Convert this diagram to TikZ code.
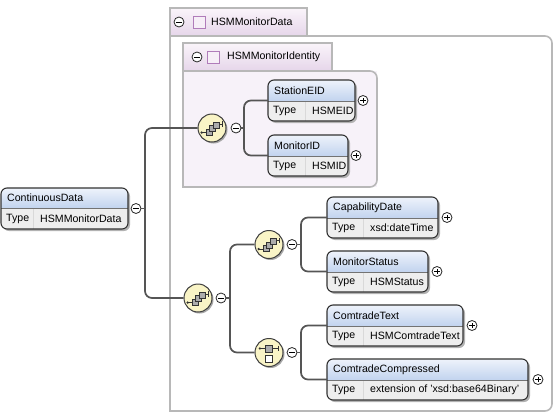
\documentclass[tikz,border=0pt]{standalone}
\usepackage{fontspec}
\setmainfont{Liberation Sans}
\usetikzlibrary{shadows}

\definecolor{elemtop}{HTML}{EEF3FB}
\definecolor{elemblue}{HTML}{B9CDEC}
\definecolor{typegray}{HTML}{EEEEEE}
\definecolor{linegray}{HTML}{555555}
\definecolor{grpborder}{HTML}{B8B8B8}
\definecolor{grpfill}{HTML}{F7F2F9}
\definecolor{grptop}{HTML}{FAF4FA}
\definecolor{grpbot}{HTML}{E6D6EA}
\definecolor{sqborder}{HTML}{B07CBA}
\definecolor{sqfill}{HTML}{F6EEF7}
\definecolor{compfill}{HTML}{F9F4C6}

\tikzset{
  conn/.style={draw=linegray, line width=1.7pt, rounded corners=7pt},
  elemborder/.style={draw=black!80, line width=1.1pt, rounded corners=6pt},
  grpline/.style={draw=grpborder, line width=1.6pt},
  txt/.style={inner sep=0pt, anchor=west, font=\fontsize{10.6}{12}\selectfont},
  comp/.style={circle, draw=black!75, line width=1pt, fill=compfill, minimum size=28pt, inner sep=0pt,
    drop shadow={shadow xshift=1.5pt, shadow yshift=-1.5pt, fill=black!35, opacity=1}},
  pm/.style={circle, draw=black!85, line width=0.8pt, fill=white, minimum size=10pt, inner sep=0pt},
  minus/.style={pm, path picture={\draw[black, line width=0.8pt]
    ([xshift=-2.6pt]path picture bounding box.center) -- ([xshift=2.6pt]path picture bounding box.center);}},
  plus/.style={pm, path picture={\draw[black, line width=0.8pt]
    ([xshift=-2.6pt]path picture bounding box.center) -- ([xshift=2.6pt]path picture bounding box.center)
    ([yshift=-2.6pt]path picture bounding box.center) -- ([yshift=2.6pt]path picture bounding box.center);}},
}

% element box: name, x1, y1, x2, y2, header line y, type column x, title, type
\newcommand{\xsdelem}[9]{%
  \fill[black!30, rounded corners=6pt] ({#2+2},{#3+2}) rectangle ({#4+2},{#5+2});
  \begin{scope}
    \clip (#2,#3) rectangle (#4,#6);
    \shade[top color=elemtop, bottom color=elemblue, rounded corners=6pt] (#2,#3) rectangle (#4,{#6+4});
  \end{scope}
  \begin{scope}
    \clip (#2,#6) rectangle (#4,#5);
    \fill[typegray, rounded corners=6pt] (#2,#3) rectangle (#4,#5);
  \end{scope}
  \draw[black!15, line width=1pt] (#7,#6) -- (#7,#5);
  \draw[black!55, line width=0.6pt] (#2,#6) -- (#4,#6);
  \draw[elemborder] (#2,#3) rectangle (#4,#5);
  \node[txt] (#1-title) at ({#2+6},{(#3+#6)/2}) {#8};
  \node[txt] (#1-key) at ({#2+5},{(#6+#5)/2}) {Type};
  \node[txt] (#1-type) at ({#7+7},{(#6+#5)/2}) {#9};
  \coordinate (#1) at (#2,{(#3+#5)/2});
}

% sequence and choice marks inside a compositor
\newcommand{\seqicon}[1]{%
  \begin{scope}[shift={(#1.center)}, scale=1.15]
    \draw[black!80, line width=0.7pt] (-9,4) -- (-4,4);
    \fill[black!80] (-9,4) circle (1.1);
    \draw[black!80, line width=0.7pt] (5,-3.5) -- (9,-3.5) (9,-6) -- (9,-1);
    \foreach \d in {0,3,6}
      \draw[fill=gray!65, draw=black!80, line width=0.6pt] ({-5+\d},{1-\d}) rectangle ({0+\d},{6-\d});
  \end{scope}}
\newcommand{\choiceicon}[1]{%
  \begin{scope}[shift={(#1.center)}, scale=1.15]
    \draw[black!80, line width=0.7pt] (-8,-3.5) -- (8,-3.5) (8,-6) -- (8,-1);
    \fill[black!80] (-8,-3.5) circle (1.1);
    \draw[fill=gray!65, draw=black!80, line width=0.6pt] (-3,-6.5) rectangle (3,-0.5);
    \draw[fill=white, draw=black!80, line width=0.6pt] (-3,2.5) rectangle (3,8.5);
  \end{scope}}

\begin{document}
\begin{tikzpicture}[x=1pt, y=-1pt]
\useasboundingbox (0,0) rectangle (554,415);

% group HSMMonitorData
\fill[white] (170,36) rectangle (552,411);
\begin{scope}
  \clip (169,30) rectangle (560,420);
  \draw[grpline, rounded corners=7pt] (150,36) rectangle (552,411);
\end{scope}
\draw[grpline, line cap=rect] (170,36) -- (170,411);
\shade[top color=grptop, bottom color=grpbot] (170,8) rectangle (307,36);
\draw[grpline] (170,8) rectangle (307,36);
\node[minus] (datagrp-minus) at (179,22) {};
\draw[sqborder, fill=sqfill, line width=0.9pt] (193,16) rectangle (205,28);
\node[txt] (datagrp-title) at (211,22) {HSMMonitorData};

% group HSMMonitorIdentity
\fill[grpfill] (183,71) rectangle (377,187);
\begin{scope}
  \clip (182,65) rectangle (385,195);
  \draw[grpline, rounded corners=7pt] (160,71) rectangle (377,187);
\end{scope}
\draw[grpline, line cap=rect] (183,71) -- (183,187);
\shade[top color=grptop, bottom color=grpbot] (183,43) rectangle (332,71);
\draw[grpline] (183,43) rectangle (332,71);
\node[minus] (idgrp-minus) at (197,57) {};
\draw[sqborder, fill=sqfill, line width=0.9pt] (207,51) rectangle (219,63);
\node[txt] (idgrp-title) at (227,57) {HSMMonitorIdentity};

% elements
\xsdelem{continuousdata}{1}{188}{128}{229}{208}{33}{ContinuousData}{HSMMonitorData}
\xsdelem{stationeid}{268}{80}{355}{121}{101}{305}{StationEID}{HSMEID}
\xsdelem{monitorid}{268}{135}{348}{176}{156}{305}{MonitorID}{HSMID}
\xsdelem{capabilitydate}{327}{197}{438}{238}{218}{363}{CapabilityDate}{xsd:dateTime}
\xsdelem{monitorstatus}{327}{251}{428}{292}{272}{363}{MonitorStatus}{HSMStatus}
\xsdelem{comtradetext}{327}{305}{463}{346}{326}{363}{ComtradeText}{HSMComtradeText}
\xsdelem{comtradecompressed}{327}{359}{528}{400}{380}{363}{ComtradeCompressed}{extension of 'xsd:base64Binary'}

\node[minus] (continuousdata-minus) at (136,208.5) {};
\node[plus] (stationeid-plus) at (363,100.5) {};
\node[plus] (monitorid-plus) at (356,155.5) {};
\node[plus] (capabilitydate-plus) at (447,217.5) {};
\node[plus] (monitorstatus-plus) at (437,271.5) {};
\node[plus] (comtradetext-plus) at (472,325.5) {};
\node[plus] (comtradecompressed-plus) at (538,379.5) {};

% compositors
\node[comp] (seqid) at (212,128) {};
\node[minus] (seqid-minus) at (236,128) {};
\node[comp] (seqdata) at (198,298) {};
\node[minus] (seqdata-minus) at (221,298) {};
\node[comp] (seqcap) at (269,244.5) {};
\node[minus] (seqcap-minus) at (292,244.5) {};
\node[comp] (chcom) at (269,352.5) {};
\node[minus] (chcom-minus) at (292,352.5) {};
\seqicon{seqid}
\seqicon{seqdata}
\seqicon{seqcap}
\choiceicon{chcom}

% connectors
\coordinate (trunk) at (145,0);
\coordinate (idfork) at (244,0);
\coordinate (datafork) at (230,0);
\coordinate (capfork) at (301,0);
\coordinate (comfork) at (301,0);
\draw[conn] (continuousdata-minus.east) -- (continuousdata-minus.east -| trunk);
\draw[conn] (seqid.west) -- (seqid.west -| trunk) -- (seqdata.west -| trunk) -- (seqdata.west);
\draw[conn] (seqid-minus.east) -- (seqid-minus.east -| idfork);
\draw[conn] (stationeid) -- (stationeid -| idfork) -- (monitorid -| idfork) -- (monitorid);
\draw[conn] (seqdata-minus.east) -- (seqdata-minus.east -| datafork);
\draw[conn] (seqcap.west) -- (seqcap.west -| datafork) -- (chcom.west -| datafork) -- (chcom.west);
\draw[conn] (seqcap-minus.east) -- (seqcap-minus.east -| capfork);
\draw[conn] (capabilitydate) -- (capabilitydate -| capfork) -- (monitorstatus -| capfork) -- (monitorstatus);
\draw[conn] (chcom-minus.east) -- (chcom-minus.east -| comfork);
\draw[conn] (comtradetext) -- (comtradetext -| comfork) -- (comtradecompressed -| comfork) -- (comtradecompressed);
\end{tikzpicture}
\end{document}
